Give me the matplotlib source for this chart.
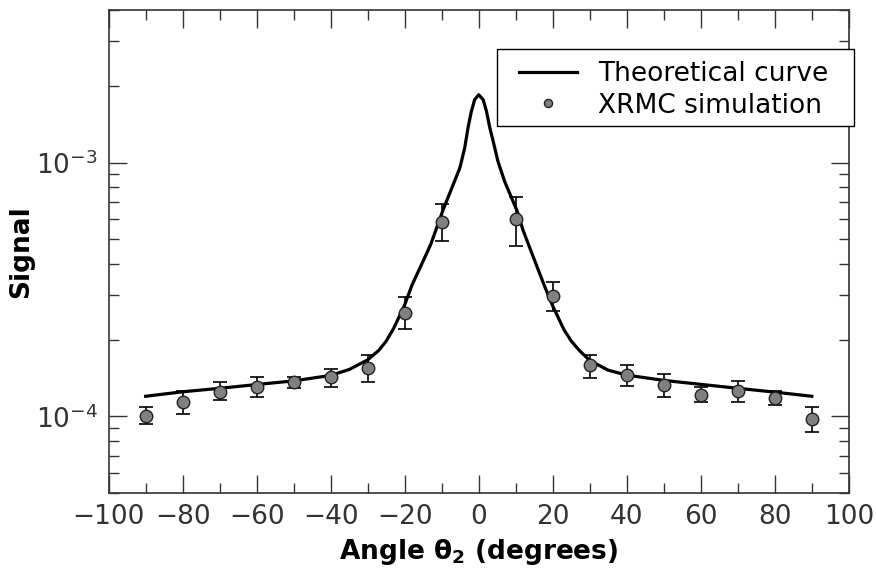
import matplotlib
matplotlib.use("Agg")
import matplotlib.pyplot as plt
from matplotlib.patches import Rectangle
from matplotlib.ticker import MultipleLocator, LogLocator, NullFormatter

# theoretical curve
curve_x = [-90, -80, -70, -60, -50, -40, -35, -30, -27, -25, -23, -20, -18, -15,
           -13, -9.6, -6.9, -5.1, -3.8, -2.9, -2.0, -1.1, 0,
           1.2, 2.1, 3.0, 4.1, 5.2, 7.0, 10.4, 12, 15, 18, 20, 23, 25, 27, 30, 35, 40,
           50, 60, 70, 80, 90]
curve_y = [1.20e-4, 1.25e-4, 1.29e-4, 1.335e-4, 1.38e-4, 1.45e-4, 1.53e-4, 1.67e-4,
           1.82e-4, 1.98e-4, 2.22e-4, 2.75e-4, 3.30e-4, 4.10e-4, 4.75e-4, 6.53e-4,
           8.19e-4, 9.53e-4, 1.14e-3, 1.37e-3, 1.59e-3, 1.77e-3, 1.85e-3,
           1.77e-3, 1.59e-3, 1.37e-3, 1.18e-3, 1.01e-3, 8.43e-4, 6.43e-4,
           5.40e-4, 4.15e-4, 3.20e-4, 2.72e-4, 2.20e-4, 1.98e-4, 1.83e-4, 1.66e-4,
           1.52e-4, 1.454e-4, 1.386e-4, 1.337e-4, 1.29e-4, 1.246e-4, 1.20e-4]

# XRMC simulation points with lower / upper error bar ends
sim_x = [-90, -80, -70, -60, -50, -40, -30, -20, -10, 10, 20, 30, 40, 50, 60, 70, 80, 90]
sim_y = [1.00e-4, 1.135e-4, 1.25e-4, 1.31e-4, 1.36e-4, 1.425e-4, 1.55e-4, 2.565e-4,
         5.85e-4, 6.02e-4, 2.98e-4, 1.59e-4, 1.45e-4, 1.333e-4, 1.217e-4, 1.254e-4,
         1.185e-4, 0.976e-4]
sim_lo = [0.933e-4, 1.021e-4, 1.156e-4, 1.188e-4, 1.29e-4, 1.30e-4, 1.37e-4, 2.21e-4,
          4.90e-4, 4.71e-4, 2.60e-4, 1.419e-4, 1.32e-4, 1.196e-4, 1.135e-4, 1.138e-4,
          1.107e-4, 0.865e-4]
sim_hi = [1.092e-4, 1.254e-4, 1.365e-4, 1.429e-4, 1.429e-4, 1.54e-4, 1.738e-4, 2.95e-4,
          6.84e-4, 7.35e-4, 3.39e-4, 1.749e-4, 1.588e-4, 1.463e-4, 1.309e-4, 1.381e-4,
          1.254e-4, 1.088e-4]

grey = "#333333"

fig = plt.figure(figsize=(8.76, 5.75), dpi=100)
ax = fig.add_axes([0.124, 0.143, 0.845, 0.840])

yerr = [[y - lo for y, lo in zip(sim_y, sim_lo)],
        [hi - y for y, hi in zip(sim_y, sim_hi)]]
ax.errorbar(sim_x, sim_y, yerr=yerr, fmt="none", ecolor="black",
            elinewidth=1.2, capsize=5, capthick=1.2, zorder=2)
ax.plot(curve_x, curve_y, color="black", lw=2.3, label="Theoretical curve",
        solid_joinstyle="round", zorder=3)
ax.plot(sim_x, sim_y, "o", ms=9, mfc="#808080", mec="#222222", mew=1.0,
        label="XRMC simulation", zorder=4)

ax.set_yscale("log")
ax.set_xlim(-100, 100)
ax.set_ylim(5e-5, 4e-3)
ax.xaxis.set_major_locator(MultipleLocator(20))
ax.xaxis.set_minor_locator(MultipleLocator(10))
ax.yaxis.set_major_locator(LogLocator(base=10))
ax.yaxis.set_minor_locator(LogLocator(base=10, subs=range(2, 10)))
ax.yaxis.set_minor_formatter(NullFormatter())

ax.tick_params(which="both", direction="in", top=True, right=True,
               colors=grey, labelcolor=grey, labelsize=19, width=1.0)
ax.tick_params(which="major", length=13, pad=8)
ax.tick_params(which="minor", length=7)
for sp in ax.spines.values():
    sp.set_color(grey)
    sp.set_linewidth(1.2)

ax.set_xlabel(r"Angle $\mathbf{\theta_2}$ (degrees)", fontsize=19, fontweight="bold", labelpad=5)
ax.set_ylabel("Signal", fontsize=19, fontweight="bold")
ax.yaxis.set_label_coords(-0.100, 0.5)

# legend frame drawn separately: it pokes a little past the right spine
frame = Rectangle((0.5243, 0.7598), 0.4824, 0.1594, transform=ax.transAxes,
                  facecolor="white", edgecolor="black", lw=1.0,
                  clip_on=False, zorder=5)
ax.add_patch(frame)
leg = ax.legend(loc="center left", bbox_to_anchor=(0.554, 0.834), borderaxespad=0,
                fontsize=19, markerscale=0.65, numpoints=1, frameon=False,
                handlelength=2.2, handletextpad=0.8, borderpad=0,
                labelspacing=0.2)
leg.set_zorder(6)

fig.savefig("out.png", dpi=100)
